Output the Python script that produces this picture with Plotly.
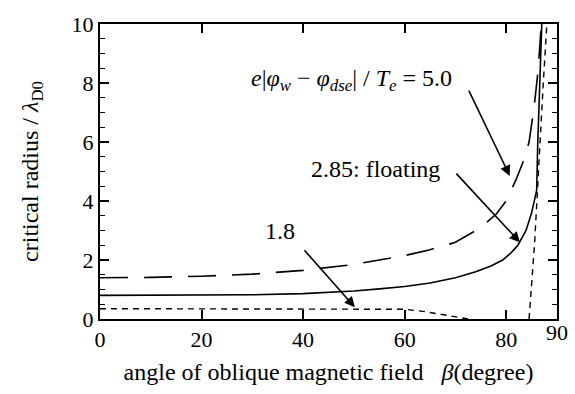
import plotly.graph_objects as go

# ---- data ----
beta_float = [0, 10, 20, 30, 40, 45, 50, 55, 60, 65, 70, 74, 77, 79.3, 81, 82.3, 83.9, 85, 86, 86.2, 87.0]
r_float = [0.8, 0.8, 0.8, 0.82, 0.86, 0.9, 0.95, 1.02, 1.1, 1.22, 1.4, 1.6, 1.8, 2.0, 2.25, 2.5, 3.0, 3.6, 4.37, 5.9, 10]

beta_50 = [0, 10, 20, 30, 40, 50, 55, 60, 65, 70, 75, 78, 80, 82, 83.5, 84.5, 85.5, 86.2, 86.6, 86.9]
r_50 = [1.4, 1.41, 1.45, 1.52, 1.65, 1.85, 2.0, 2.15, 2.35, 2.6, 3.1, 3.55, 4.0, 4.75, 5.4, 6.0, 7.2, 8.3, 9.2, 10]

beta_18 = [0, 20, 40, 60, 64, 68, 72.5, None, 84.5, 85.0, 85.6, 86.1, 86.6, 87.3, 88.0]
r_18 = [0.35, 0.35, 0.35, 0.33, 0.25, 0.14, 0.0, None, 0.0, 1.2, 2.6, 4.2, 6.0, 8.0, 10]

x_ticks = [0, 20, 40, 60, 80]
y_ticks = [0, 2, 4, 6, 8, 10]

FONT = "Times New Roman"

fig = go.Figure()
fig.add_trace(go.Scatter(x=beta_50, y=r_50, mode="lines",
                         line=dict(color="black", width=1.6, dash="28px,16px")))
fig.add_trace(go.Scatter(x=beta_float, y=r_float, mode="lines",
                         line=dict(color="black", width=1.6)))
fig.add_trace(go.Scatter(x=beta_18, y=r_18, mode="lines", connectgaps=False,
                         line=dict(color="black", width=1.4, dash="6px,5px")))

axis_common = dict(showgrid=False, zeroline=False, showline=True, linecolor="black",
                   linewidth=2, mirror="ticks", ticks="inside", tickcolor="black",
                   tickwidth=1.5, ticklen=9,
                   tickfont=dict(family=FONT, size=22, color="black"))

fig.update_xaxes(range=[0, 90], tickvals=x_ticks, ticktext=[str(v) for v in x_ticks],
                 title=dict(text="angle of oblique magnetic field   <i>β</i>(degree)",
                            font=dict(family=FONT, size=24, color="black"), standoff=12),
                 **axis_common)
fig.update_yaxes(range=[0, 10], tickvals=y_ticks, ticktext=[str(v) for v in y_ticks],
                 minor=dict(dtick=0.5, ticks="inside", ticklen=5, tickcolor="black", tickwidth=1.2),
                 title=dict(text="critical radius / <i>λ</i><sub>D0</sub>",
                            font=dict(family=FONT, size=24, color="black"), standoff=26),
                 **axis_common)

ann_font = dict(family=FONT, size=24, color="black")
annotations = [
    dict(x=1, y=0, xref="paper", yref="paper", text="90", showarrow=False,
         font=dict(family=FONT, size=22, color="black"),
         yshift=1, xanchor="center", yanchor="top"),
    dict(x=49.6, y=8.09, text="<i>e</i>|<i>φ</i><sub><i>w</i></sub> − <i>φ</i><sub><i>dse</i></sub>| / <i>T</i><sub><i>e</i></sub> = 5.0",
         showarrow=False, font=ann_font),
    dict(x=54.2, y=5.08, text="2.85: floating", showarrow=False, font=ann_font),
    dict(x=35.4, y=3.0, text="1.8", showarrow=False, font=ann_font),
    dict(x=80.7, y=4.85, ax=72.5, ay=7.79, axref="x", ayref="y", text="", showarrow=True,
         arrowhead=2, arrowsize=1.3, arrowwidth=1.6, arrowcolor="black"),
    dict(x=82.7, y=2.6, ax=69.9, ay=4.98, axref="x", ayref="y", text="", showarrow=True,
         arrowhead=2, arrowsize=1.3, arrowwidth=1.6, arrowcolor="black"),
    dict(x=50.2, y=0.4, ax=40.0, ay=2.38, axref="x", ayref="y", text="", showarrow=True,
         arrowhead=2, arrowsize=1.3, arrowwidth=1.6, arrowcolor="black"),
]

fig.update_layout(width=575, height=394, margin=dict(l=100, r=18, t=16, b=75),
                  plot_bgcolor="white", paper_bgcolor="white", showlegend=False,
                  annotations=annotations, font=dict(family=FONT, color="black"))

fig.write_html("out.html", config={"displayModeBar": False},
               post_script="document.body.style.margin='0';")
